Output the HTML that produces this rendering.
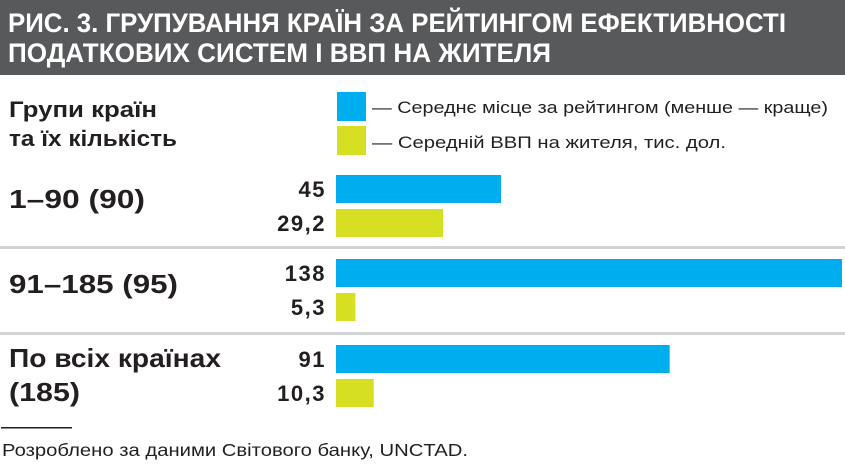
<!DOCTYPE html>
<html><head><meta charset="utf-8"><style>
body{margin:0;background:#fff}
svg{display:block;font-family:"Liberation Sans","DejaVu Sans",sans-serif}
</style></head><body>
<svg id="c" width="845" height="465">
<rect x="0" y="0" width="845" height="75" fill="#58595b"/>
<text x="8" y="32" fill="#fff" font-size="27" font-weight="bold" textLength="778" lengthAdjust="spacingAndGlyphs">РИС. 3. ГРУПУВАННЯ КРАЇН ЗА РЕЙТИНГОМ ЕФЕКТИВНОСТІ</text>
<text x="8" y="62" fill="#fff" font-size="27" font-weight="bold" textLength="543" lengthAdjust="spacingAndGlyphs">ПОДАТКОВИХ СИСТЕМ І ВВП НА ЖИТЕЛЯ</text>
<text x="9" y="117" font-size="22" font-weight="bold" fill="#231f20" textLength="148" lengthAdjust="spacingAndGlyphs">Групи країн</text>
<text x="9" y="146" font-size="22" font-weight="bold" fill="#231f20" textLength="168" lengthAdjust="spacingAndGlyphs">та їх кількість</text>
<rect x="337" y="92" width="29" height="29" fill="#00aeef"/>
<text x="372" y="113" font-size="17" fill="#231f20" textLength="456" lengthAdjust="spacingAndGlyphs">— Середнє місце за рейтингом (менше — краще)</text>
<rect x="337" y="126" width="29" height="29" fill="#d7df23"/>
<text x="372" y="148" font-size="17" fill="#231f20" textLength="354" lengthAdjust="spacingAndGlyphs">— Середній ВВП на жителя, тис. дол.</text>
<rect x="0" y="246" width="845" height="3" fill="#d1d3d4"/>
<rect x="0" y="332" width="845" height="3" fill="#d1d3d4"/>
<text x="9" y="208" font-size="26" font-weight="bold" fill="#231f20" textLength="136" lengthAdjust="spacingAndGlyphs">1–90 (90)</text>
<text x="9" y="293" font-size="26" font-weight="bold" fill="#231f20" textLength="169" lengthAdjust="spacingAndGlyphs">91–185 (95)</text>
<text x="9" y="367" font-size="26" font-weight="bold" fill="#231f20" textLength="212" lengthAdjust="spacingAndGlyphs">По всіх країнах</text>
<text x="9" y="401" font-size="26" font-weight="bold" fill="#231f20" textLength="71" lengthAdjust="spacingAndGlyphs">(185)</text>
<rect x="1" y="427" width="71" height="1.5" fill="#231f20"/>
<text x="2" y="456" font-size="17.5" fill="#231f20" textLength="466" lengthAdjust="spacingAndGlyphs">Розроблено за даними Світового банку, UNCTAD.</text>
<g id="bars"></g>
</svg>
<script>
const groups=["1–90 (90)","91–185 (95)","По всіх країнах (185)"];
const rankValues=[45,138,91];
const gdpValues=[29.2,5.3,10.3];
const rankLabels=["45","138","91"];
const gdpLabels=["29,2","5,3","10,3"];
const NS="http://www.w3.org/2000/svg";
const x0=336, scale=506/138;
const x=v=>v*scale;
const rowTop=[175,259,345];
const g=document.getElementById('bars');
function bar(y,v,color,label,name){
  const r=document.createElementNS(NS,'rect');
  r.setAttribute('x',x0);r.setAttribute('y',y);r.setAttribute('width',x(v));r.setAttribute('height',28);r.setAttribute('fill',color);
  
  
  g.appendChild(r);
  const t=document.createElementNS(NS,'text');
  t.setAttribute('x',326);t.setAttribute('y',y+22);t.setAttribute('text-anchor','end');
  t.setAttribute('font-size','22');t.setAttribute('font-weight','bold');t.setAttribute('fill','#231f20');
  t.setAttribute('letter-spacing','1.5');
  t.textContent=label;
  
  
  g.appendChild(t);
}
groups.forEach((gr,i)=>{
  bar(rowTop[i],rankValues[i],'#00aeef',rankLabels[i],'bar-rank-'+(i+1));
  bar(rowTop[i]+34,gdpValues[i],'#d7df23',gdpLabels[i],'bar-gdp-'+(i+1));
});
</script>
</body></html>
